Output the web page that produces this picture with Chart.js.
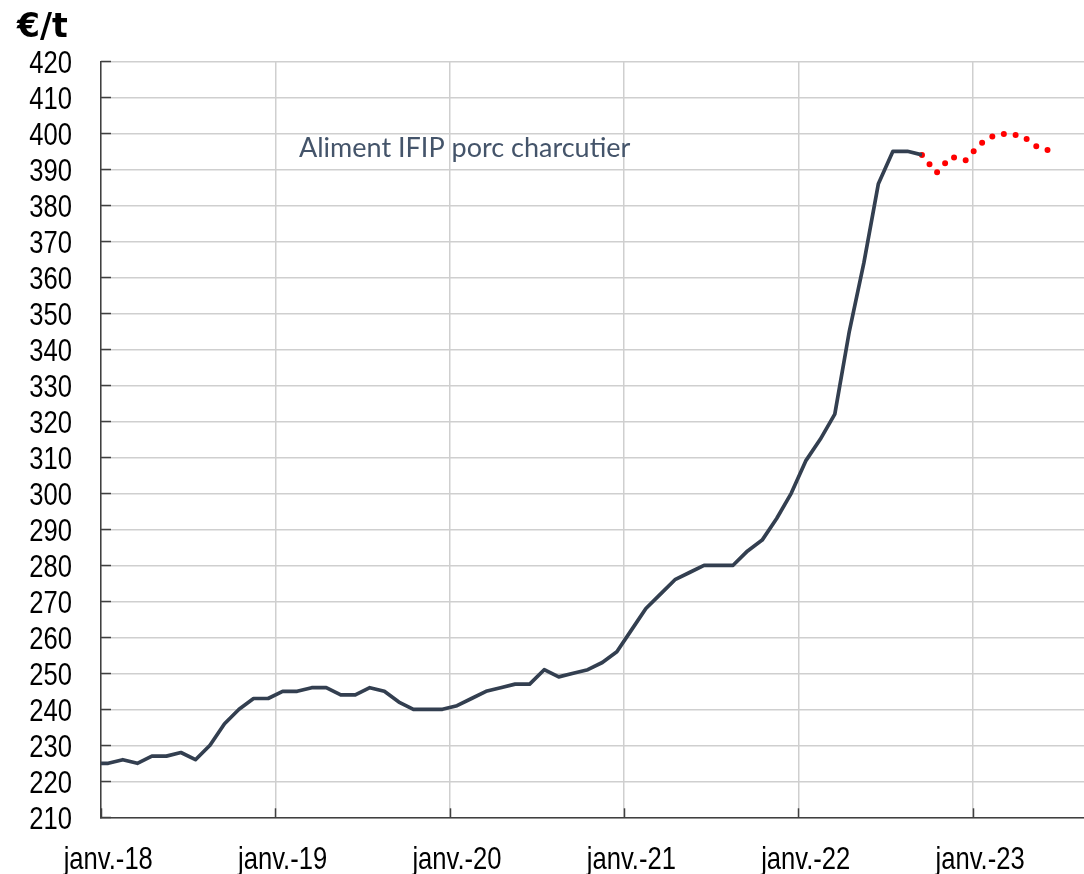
<!DOCTYPE html>
<html><head><meta charset="utf-8">
<script src="https://cdn.jsdelivr.net/npm/chart.js@4/dist/chart.umd.min.js"></script>
<style>html,body{margin:0;padding:0;background:#fff}#wrap{width:1084px;height:874px;position:relative}</style>
</head><body><div id="wrap"><canvas id="c" width="1084" height="874"></canvas></div>
<script>
// ---- data ----
const unitLabel = '€/t';
const seriesName = 'Aliment IFIP porc charcutier';
const yearTickLabels = ['janv.-18','janv.-19','janv.-20','janv.-21','janv.-22','janv.-23'];
const alimentDec2017 = 225;
const aliment2018 = [225, 226, 225, 227, 227, 228, 226, 230, 236, 240, 243, 243];
const aliment2019 = [245, 245, 246, 246, 244, 244, 246, 245, 242, 240, 240, 240];
const aliment2020 = [241, 243, 245, 246, 247, 247, 251, 249, 250, 251, 253, 256];
const aliment2021 = [262, 268, 272, 276, 278, 280, 280, 280, 284, 287, 293, 300];
const aliment2022 = [309, 315, 322, 345, 364, 386, 395, 395, 394];
// forecast: Sep 2022 -> Jun 2023
const prevision = [394, 389, 393.5, 392.5, 397, 399.5, 400, 399, 396, 395];
const previsionStartMonth = 56; // index of Sep 2022 counted from Jan 2018
const yMin = 210, yMax = 420, yStep = 10;

// ---- build points (x = month index, placed at month centre) ----
const reel = [...aliment2018, ...aliment2019, ...aliment2020, ...aliment2021, ...aliment2022];
const reelPts = [{x: -0.5, y: alimentDec2017}].concat(reel.map((v, i) => ({x: i + 0.5, y: v})));
const prevPts = prevision.map((v, i) => ({x: previsionStartMonth + i + 0.5, y: v}));

const narrow = 0.8;
const labelFont = '32px "Liberation Sans", Arial, sans-serif';

const deco = {
  id: 'deco',
  afterDraw(chart) {
    const {ctx, chartArea: a, scales: {x, y}} = chart;
    ctx.save();
    // inward tick marks
    ctx.strokeStyle = '#404040';
    ctx.lineWidth = 1.5;
    y.ticks.forEach(t => {
      const py = Math.round(y.getPixelForValue(t.value)) + 0.5;
      ctx.beginPath(); ctx.moveTo(a.left, py); ctx.lineTo(a.left + 10, py); ctx.stroke();
    });
    x.ticks.forEach(t => {
      const px = Math.round(x.getPixelForValue(t.value)) + 0.5;
      ctx.beginPath(); ctx.moveTo(px, a.bottom); ctx.lineTo(px, a.bottom - 9); ctx.stroke();
    });
    // tick labels (narrow, like Arial Narrow)
    ctx.fillStyle = '#000';
    ctx.font = labelFont;
    ctx.textBaseline = 'alphabetic';
    ctx.save();
    ctx.scale(narrow, 1);
    ctx.textAlign = 'right';
    y.ticks.forEach(t => {
      const py = y.getPixelForValue(t.value);
      ctx.fillText(String(t.value), 72 / narrow, py + 11.5);
    });
    ctx.textAlign = 'center';
    x.ticks.forEach((t, i) => {
      const px = x.getPixelForValue(t.value + 0.5);
      ctx.fillText(yearTickLabels[i], px / narrow, 869);
    });
    ctx.restore();
    // unit
    ctx.fillStyle = '#000';
    ctx.font = 'bold 33px "DejaVu Sans"';
    ctx.textAlign = 'left';
    ctx.fillText(unitLabel, 17, 37);
    // series annotation
    ctx.fillStyle = '#44546A';
    ctx.font = '27px Lato';
    ctx.fillText(seriesName, 299, 157);
    ctx.restore();
  }
};

new Chart(document.getElementById('c'), {
  type: 'line',
  data: {
    datasets: [
      {label: seriesName, data: reelPts, borderColor: '#333F50', borderWidth: 3.7, pointRadius: 0, tension: 0, borderJoinStyle: 'round'},
      {label: 'prévision', data: prevPts, borderColor: '#FF0000', borderWidth: 6, pointRadius: 0, tension: 0,
       borderDash: [0, 12], borderCapStyle: 'round'}
    ]
  },
  options: {
    responsive: false,
    devicePixelRatio: 1,
    animation: false,
    layout: {padding: {top: 61.3, right: 0, left: 0, bottom: 0}},
    plugins: {legend: {display: false}, tooltip: {enabled: false}},
    scales: {
      x: {
        type: 'linear', min: 0, max: 67.65,
        afterBuildTicks(s) { s.ticks = yearTickLabels.map((_, i) => ({value: i * 12})); },
        afterFit(s) { s.height = 874 - 817.3; },
        ticks: {display: false},
        grid: {color: '#cfcfcf', lineWidth: 1.5, drawTicks: false},
        border: {color: '#404040', width: 1.5}
      },
      y: {
        min: yMin, max: yMax,
        afterFit(s) { s.width = 101; },
        ticks: {display: false, stepSize: yStep},
        grid: {color: '#cfcfcf', lineWidth: 1.5, drawTicks: false},
        border: {color: '#404040', width: 1.5}
      }
    }
  },
  plugins: [deco]
});
</script></body></html>
